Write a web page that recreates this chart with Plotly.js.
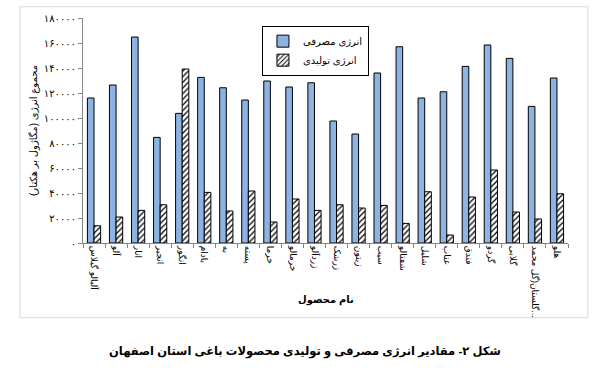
<!DOCTYPE html>
<html>
<head>
<meta charset="utf-8">
<script src="https://cdn.plot.ly/plotly-3.0.1.min.js"></script>
<style>html,body{margin:0;padding:0;background:#fff;}#chart{width:600px;height:389px;}</style>
</head>
<body>
<div id="chart"></div>
<script>
const categories = ['آلبالو گیلاس','آلو','انار','انجیر','انگور','بادام','به','پسته','خرما','خرمالو','زردآلو','زرشک','زیتون','سیب','شفتالو','شلیل','عناب','فندق','گردو','گلابی','گلستان(گل محمد...','هلو'];
const consumed = [116000,126400,164800,84500,103700,132500,124200,114400,129600,124800,128200,97600,87200,136000,157000,116000,121000,141300,158400,147700,109300,132000];
const produced = [13800,20800,26100,30600,139200,40500,25600,41600,16800,35200,26100,30600,28000,30100,15700,41000,6400,36800,58400,24800,19200,39400];
const seriesNames = ['انرژی مصرفی','انرژی تولیدی'];
const yTickVals = [0,20000,40000,60000,80000,100000,120000,140000,160000,180000];
const yTickText = ['۰','۲۰۰۰۰','۴۰۰۰۰','۶۰۰۰۰','۸۰۰۰۰','۱۰۰۰۰۰','۱۲۰۰۰۰','۱۴۰۰۰۰','۱۶۰۰۰۰','۱۸۰۰۰۰'];
const yTitle = 'مجموع انرژی (مگاژول بر هکتار)';
const xTitle = 'نام محصول';
const caption = 'شکل ۲- مقادیر انرژی مصرفی و تولیدی محصولات باغی استان اصفهان';

const FONT = 'Liberation Sans, DejaVu Sans, sans-serif';

const data = [
  {type:'bar', name:seriesNames[0], x:categories, y:consumed,
   marker:{color:'#8db3e2', line:{color:'#000', width:1}}},
  {type:'bar', name:seriesNames[1], x:categories, y:produced,
   marker:{color:'#fff', line:{color:'#000', width:1},
     pattern:{shape:'/', fgcolor:'#000', bgcolor:'#fff', size:4, solidity:0.3}}}
];

const layout = {
  width:600, height:389,
  margin:{l:83, r:32, t:18, b:146},
  paper_bgcolor:'#fff', plot_bgcolor:'#fff',
  font:{family:FONT, color:'#000', size:10},
  barmode:'group', bargap:0.4, bargroupgap:0,
  showlegend:true,
  legend:{x:0.369, y:0.966, xanchor:'left', yanchor:'top',
    bordercolor:'#000', borderwidth:1, bgcolor:'#fff',
    font:{size:10, family:FONT}, tracegroupgap:4, itemwidth:30},
  xaxis:{type:'category', automargin:false, tickangle:90,
    tickfont:{size:9, family:FONT}, showline:true, linecolor:'#868686',
    ticks:'outside', tickson:'boundaries', ticklen:4, tickcolor:'#868686'},
  yaxis:{range:[0,180000], automargin:false, tickvals:yTickVals, ticktext:yTickText,
    tickfont:{size:10, family:FONT}, showline:true, linecolor:'#868686',
    ticks:'outside', ticklen:4, tickcolor:'#868686', showgrid:false, zeroline:false,
    title:{text:yTitle, font:{size:10, family:FONT}, standoff:4}},
  shapes:[{type:'rect', xref:'paper', yref:'paper', x0:-0.13, x1:1.041, y0:-0.332, y1:1.05,
    line:{color:'#d9d9d9', width:1}, fillcolor:'rgba(0,0,0,0)', layer:'below'}],
  annotations:[
    {text:xTitle, xref:'paper', yref:'paper', x:0.5, y:-0.252,
     xanchor:'center', yanchor:'middle', showarrow:false,
     font:{size:10, family:FONT, weight:'bold'}},
    {text:caption, xref:'paper', yref:'paper', x:0.458, y:-0.485,
     xanchor:'center', yanchor:'middle', showarrow:false,
     font:{size:11.5, family:FONT, weight:'bold'}}]
};

Plotly.newPlot('chart', data, layout, {displayModeBar:false, staticPlot:true});
</script>
</body>
</html>
